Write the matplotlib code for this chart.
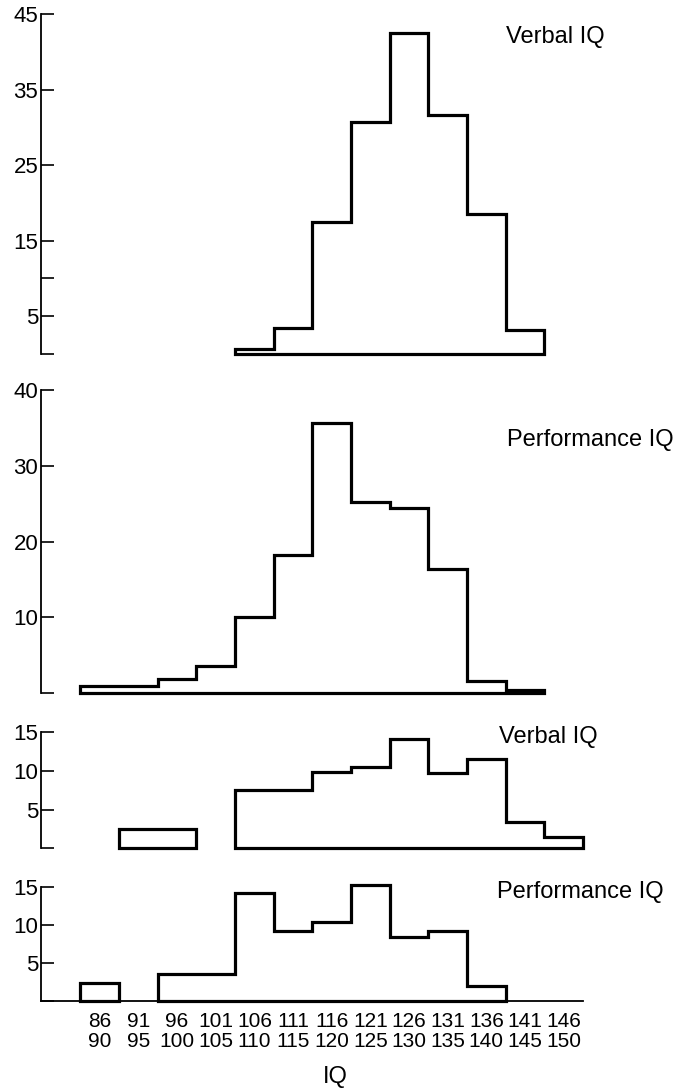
import numpy as np
import matplotlib
matplotlib.use('Agg')
import matplotlib.pyplot as plt

plt.rcParams['font.family'] = ['Liberation Sans', 'DejaVu Sans']

# IQ class intervals
bin_lo = [86, 91, 96, 101, 106, 111, 116, 121, 126, 131, 136, 141, 146]
bin_hi = [90, 95, 100, 105, 110, 115, 120, 125, 130, 135, 140, 145, 150]

# frequencies (one value per class interval)
verbal_a = [0, 0, 0, 0, 0.6, 3.4, 17.5, 30.7, 42.5, 31.6, 18.5, 3.2, 0]
perf_a = [1.0, 1.0, 1.9, 3.6, 10, 18.3, 35.7, 25.3, 24.4, 16.4, 1.6, 0.4, 0]
verbal_b = [0, 2.5, 2.5, 0, 7.6, 7.6, 9.8, 10.5, 14.1, 9.7, 11.5, 3.4, 1.4]
perf_b = [2.3, 0, 3.5, 3.5, 14.2, 9.2, 10.3, 15.2, 8.4, 9.2, 1.9, 0, 0]

titles = ['Verbal IQ', 'Performance IQ', 'Verbal IQ', 'Performance IQ']

edges = np.append(np.array(bin_lo) - 0.5, bin_hi[-1] + 0.5)
centers = (edges[:-1] + edges[1:]) / 2.


def draw_hist(ax, counts):
    '''closed step outline for every run of non-empty classes'''
    counts = np.asarray(counts, float)
    nz = counts > 0
    i = 0
    while i < len(counts):
        if not nz[i]:
            i += 1
            continue
        j = i
        while j < len(counts) and nz[j]:
            j += 1
        ax.hist(centers[i:j], bins=edges[i:j + 1], weights=counts[i:j],
                histtype='stepfilled', facecolor='none', edgecolor='black',
                linewidth=2.3, joinstyle='miter', clip_on=False)
        i = j


fig = plt.figure(figsize=(6.9, 10.92), dpi=100)

rects = [[0.0594, 0.6758, 0.7855, 0.3114],
         [0.0594, 0.3651, 0.7855, 0.2777],
         [0.0594, 0.2232, 0.7855, 0.1062],
         [0.0594, 0.0836, 0.7855, 0.1044]]
series = [verbal_a, perf_a, verbal_b, perf_b]
ylims = [45, 40, 15, 15]
yticks = [[0, 5, 10, 15, 25, 35, 45], [0, 10, 20, 30, 40], [0, 5, 10, 15], [0, 5, 10, 15]]
ylabels = [['', '5', '', '15', '25', '35', '45'], ['', '10', '20', '30', '40'],
           ['', '5', '10', '15'], ['', '5', '10', '15']]
title_pos = [(0.733, 0.966), (0.735, 0.597), (0.723, 0.325), (0.720, 0.183)]

for k in range(4):
    ax = fig.add_axes(rects[k])
    draw_hist(ax, series[k])
    ax.set_xlim(80.4, 150.5)
    ax.set_ylim(0, ylims[k])
    for s in ['top', 'right']:
        ax.spines[s].set_visible(False)
    ax.spines['left'].set_linewidth(1.3)
    ax.spines['bottom'].set_linewidth(1.3)
    ax.set_yticks(yticks[k])
    ax.set_yticklabels(ylabels[k])
    ax.tick_params(axis='y', direction='in', length=9, width=1.2, pad=2, labelsize=16)
    if k < 3:
        ax.spines['bottom'].set_visible(False)
        ax.set_xticks([])
    else:
        ax.set_xticks(centers)
        ax.set_xticklabels(['%d\n%d' % (lo, hi) for lo, hi in zip(bin_lo, bin_hi)],
                           linespacing=1.1)
        ax.tick_params(axis='x', length=0, pad=8, labelsize=15)
    fig.text(title_pos[k][0], title_pos[k][1], titles[k], fontsize=17,
             ha='left', va='center')

fig.text(0.486, 0.0137, 'IQ', fontsize=17, ha='center', va='center')

fig.savefig('out.png', dpi=100)
